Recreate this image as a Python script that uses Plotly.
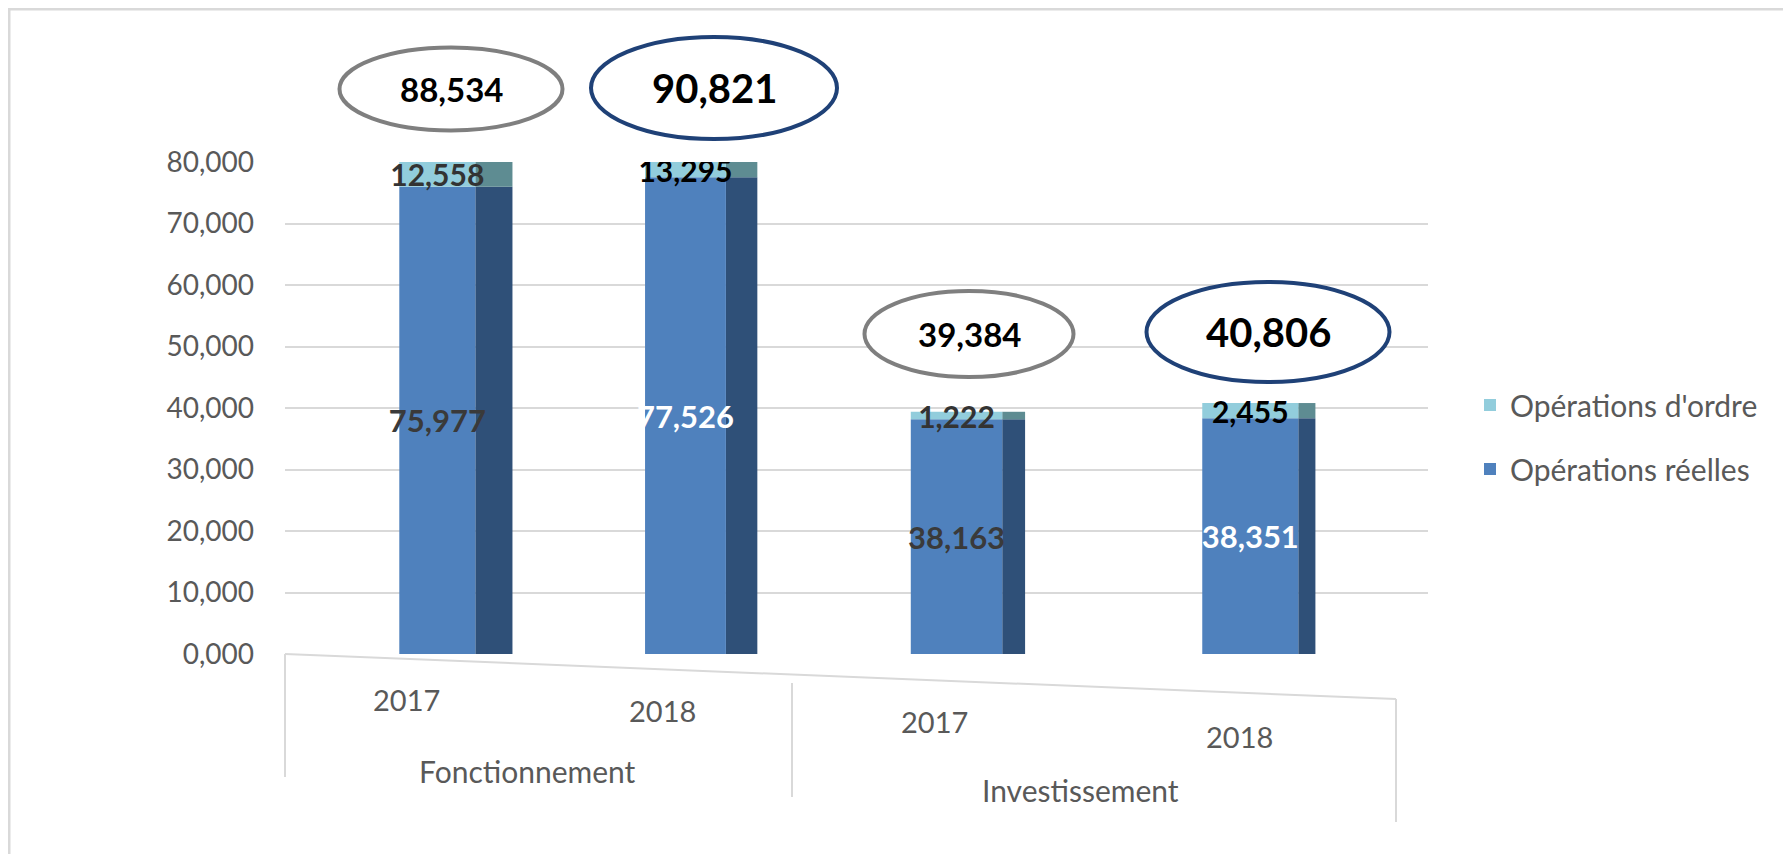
import plotly.graph_objects as go

# ---- data ----
groups = ["Fonctionnement", "Fonctionnement", "Investissement", "Investissement"]
years = ["2017", "2018", "2017", "2018"]
group_names = ["Fonctionnement", "Investissement"]
reelles = [75977, 77526, 38163, 38351]
ordre = [12558, 13295, 1222, 2455]
totals = ["88,534", "90,821", "39,384", "40,806"]
tick_vals = [0, 10000, 20000, 30000, 40000, 50000, 60000, 70000, 80000]
tick_text = ["0,000", "10,000", "20,000", "30,000", "40,000", "50,000", "60,000", "70,000", "80,000"]

YMAX = 80000
FONT = "Lato"
GREY = "#595959"
LINE = "#D9D9D9"

# figure size (page body has an 8px margin)
OFF = 8
W, H = 1791 - 2 * OFF, 862 - 2 * OFF
L, R, T, B = 277, 1420, 154, 646
S = 1791 / 1568  # reference preview scale


def px(x):  # screen x -> paper
    return (x - OFF - L) / (R - L)


def py(y):  # screen y -> paper
    return (B - (y - OFF)) / (B - T)


x = [groups, years]

fig = go.Figure()

# pseudo-perspective: front face and side face geometry per column (category units)
front_off = [-0.10, -0.24, -0.31, -0.29]
front_w = [0.266, 0.283, 0.32, 0.336]
side_w = [0.13, 0.11, 0.08, 0.06]
side_off = [o + w for o, w in zip(front_off, front_w)]

# side faces
fig.add_trace(go.Bar(x=x, y=reelles, base=0, width=side_w, offset=side_off,
                     marker=dict(color="#2F5078", line=dict(width=0)),
                     showlegend=False, hoverinfo="skip"))
fig.add_trace(go.Bar(x=x, y=ordre, base=reelles, width=side_w, offset=side_off,
                     marker=dict(color="#5E8C92", line=dict(width=0)),
                     showlegend=False, hoverinfo="skip"))

# front faces
fig.add_trace(go.Bar(
    x=x, y=reelles, base=0, width=front_w, offset=front_off,
    name="Opérations réelles", legendrank=2, legendgroup="reelles",
    marker=dict(color="#4F81BD", line=dict(width=0)),
    text=[f"{v:,}" for v in reelles], texttemplate="<b>%{text}</b>",
    textposition="inside", insidetextanchor="middle", textangle=0,
    constraintext="none",
    textfont=dict(family=FONT, size=31, color=["#3A3A3A", "white", "#3A3A3A", "white"]),
    hoverinfo="skip",
))
fig.add_trace(go.Bar(
    x=x, y=ordre, base=reelles, width=front_w, offset=front_off,
    name="Opérations d'ordre", legendrank=1, legendgroup="ordre",
    marker=dict(color="#92CDDC", line=dict(width=0)),
    textposition="none", hoverinfo="skip",
))

# transparent carrier for the labels of the (clipped) ordre segments
visible_ordre = [min(o, YMAX - r) for r, o in zip(reelles, ordre)]
fig.add_trace(go.Bar(
    x=x, y=visible_ordre, base=reelles, width=front_w, offset=front_off,
    marker=dict(color="rgba(0,0,0,0)", line=dict(width=0)),
    text=[f"{v:,}" for v in ordre], texttemplate="<b>%{text}</b>",
    textposition="inside", insidetextanchor="middle", textangle=0,
    constraintext="none",
    textfont=dict(family=FONT, size=30, color=["#333333", "black", "#333333", "black"]),
    showlegend=False, hoverinfo="skip",
))

# ellipses with totals (screen pixel centre, size)
ell = [
    (451, 89, 223, 83, "#7F7F7F", 33),
    (714, 88, 246, 102, "#1F4177", 40),
    (969, 334, 209, 86, "#7F7F7F", 33),
    (1268, 332, 243, 100, "#1F4177", 40),
]
shapes = []
annotations = []
for (cx, cy, w, h, col, fs), t in zip(ell, totals):
    shapes.append(dict(type="circle", xref="paper", yref="paper",
                       x0=px(cx - w / 2), x1=px(cx + w / 2),
                       y0=py(cy + h / 2), y1=py(cy - h / 2),
                       line=dict(color=col, width=4), fillcolor="white", layer="above"))
    annotations.append(dict(xref="paper", yref="paper", x=px(cx), y=py(cy),
                            xanchor="center", yanchor="middle",
                            text=f"<b>{t}</b>", showarrow=False,
                            font=dict(family=FONT, size=fs, color="black")))

# category labels (years and groups), placed like the reference floor
year_pos = [(356, 612), (580, 622), (818, 632), (1085, 645)]
for (sx, sy), yr in zip(year_pos, years):
    annotations.append(dict(xref="paper", yref="paper", x=px(sx * S), y=py(sy * S),
                            xanchor="center", yanchor="middle", text=yr, showarrow=False,
                            font=dict(family=FONT, size=29, color=GREY)))
group_pos = [(462, 675), (946, 692)]
for (sx, sy), g in zip(group_pos, group_names):
    annotations.append(dict(xref="paper", yref="paper", x=px(sx * S), y=py(sy * S),
                            xanchor="center", yanchor="middle", text=g, showarrow=False,
                            font=dict(family=FONT, size=30, color=GREY)))

# floor edge and dividers
shapes.append(dict(type="line", xref="paper", yref="paper",
                   x0=0, y0=0, x1=px(1396), y1=py(699),
                   line=dict(color=LINE, width=2)))
for sx, y_top, y_bot in [(285, 654, 777), (792, 683, 797), (1396, 699, 822)]:
    shapes.append(dict(type="line", xref="paper", yref="paper",
                       x0=px(sx), x1=px(sx), y0=py(y_top), y1=py(y_bot),
                       line=dict(color=LINE, width=2)))

# outer frame
shapes.append(dict(type="rect", xref="paper", yref="paper",
                   x0=px(9), x1=px(1786), y0=py(9), y1=py(858),
                   line=dict(color=LINE, width=3), layer="below"))

fig.update_layout(
    width=W, height=H,
    margin=dict(l=L, r=W - R, t=T, b=H - B, autoexpand=False),
    plot_bgcolor="white", paper_bgcolor="white",
    barmode="overlay",
    font=dict(family=FONT, color=GREY),
    shapes=shapes, annotations=annotations,
    legend=dict(x=px(1470), y=py(437), xanchor="left", yanchor="middle",
                traceorder="grouped", tracegroupgap=22, itemwidth=30,
                font=dict(family=FONT, size=30, color=GREY),
                bgcolor="rgba(0,0,0,0)"),
    xaxis=dict(type="multicategory", showticklabels=False, showdividers=False,
               showline=False, showgrid=False, ticks="", range=[-0.5, 3.5]),
    yaxis=dict(range=[0, YMAX], tickvals=tick_vals, ticktext=tick_text,
               tickfont=dict(family=FONT, size=28, color=GREY),
               showgrid=True, gridcolor=LINE, gridwidth=2,
               zeroline=False, showline=False, ticks="", ticklabelstandoff=30),
)

fig.write_html("out.html")
